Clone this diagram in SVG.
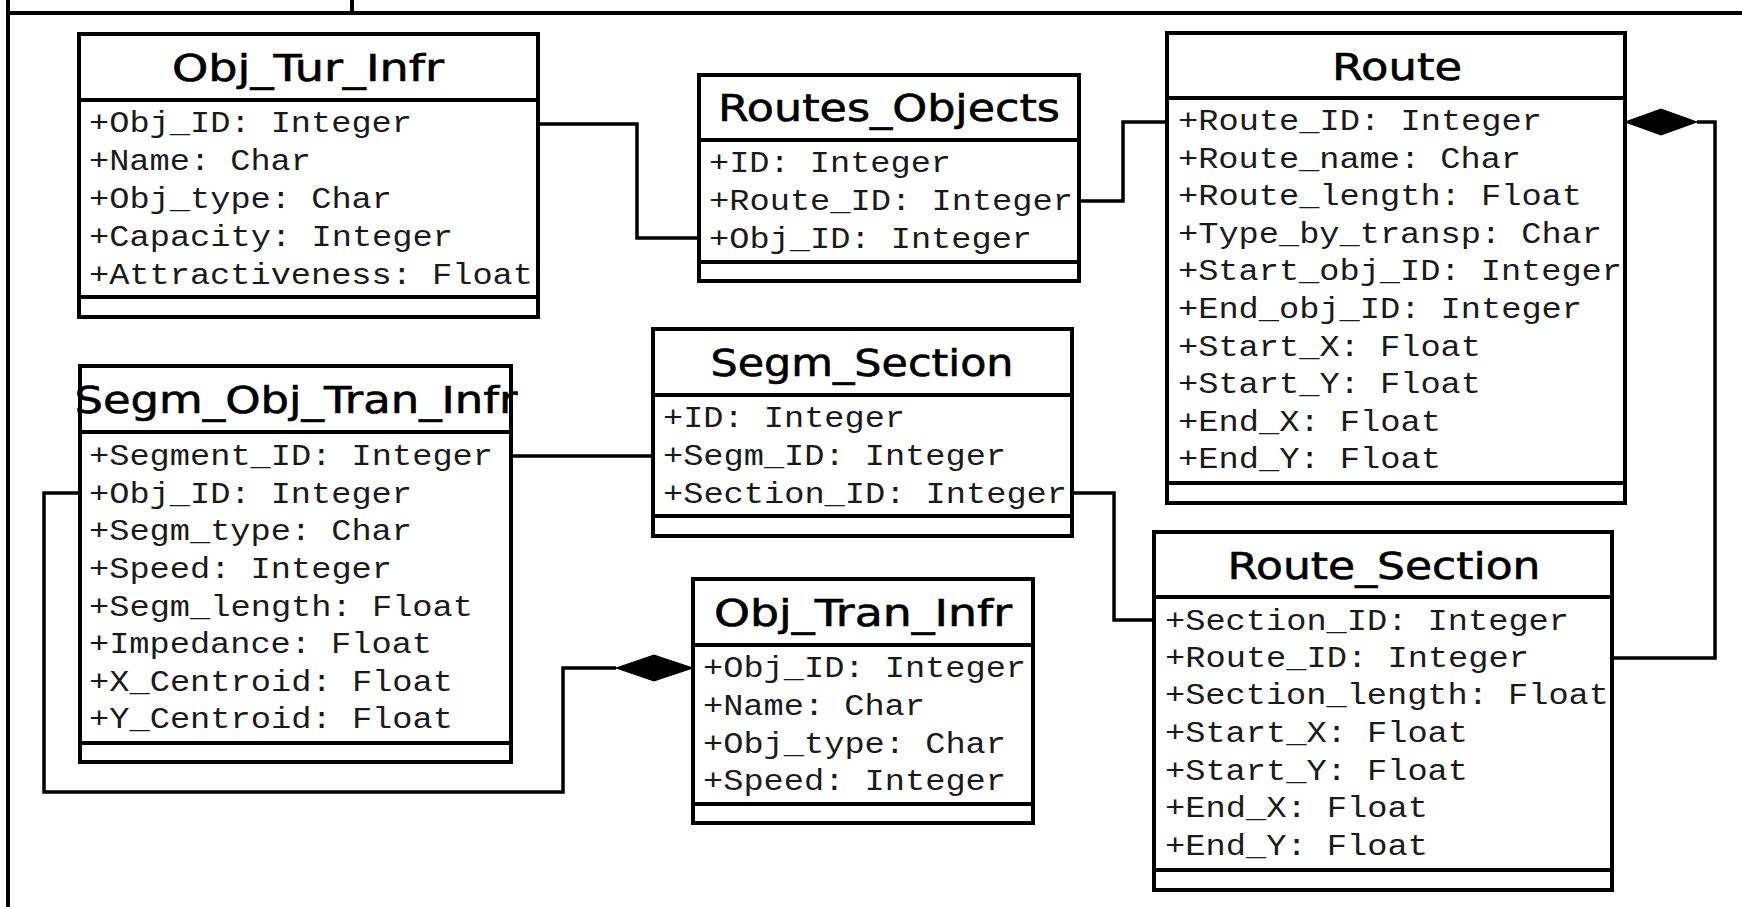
<svg xmlns="http://www.w3.org/2000/svg" width="1742" height="907" viewBox="0 0 1742 907">
<style>
.box{fill:#fff;stroke:#000;stroke-width:4}
.div{stroke:#000;stroke-width:4}
.ttl{font-family:"DejaVu Sans",sans-serif;font-size:38px;fill:#000;stroke:#000;stroke-width:0.6;text-anchor:middle}
.att{font-family:"Liberation Mono",monospace;font-size:30px;fill:#1a1a1a}
.con{fill:none;stroke:#000;stroke-width:3.5}
.dia{fill:#000;stroke:#000;stroke-width:1}
.frm{fill:none;stroke:#000;stroke-width:4}
</style>
<rect x="0" y="0" width="1742" height="907" fill="#fff"/>
<g id="frame">
<path class="frm" d="M8,0 V907 M8,13 H1742 M352,0 V13"/>
</g>
<g id="connectors">
<path class="con" d="M538,124 H637 V238 H699"/>
<path class="con" d="M1079,201 H1123 V122 H1167"/>
<path class="con" d="M1697,122 H1715 V658 H1612"/>
<polygon class="dia" points="1625,122 1661,109 1697,122 1661,135"/>
<path class="con" d="M511,456 H653"/>
<path class="con" d="M1072,493 H1114 V620 H1154"/>
<path class="con" d="M80,493 H44 V792 H563 V668 H616"/>
<polygon class="dia" points="693,668 654,655 616,668 654,681"/>
</g>
<g id="Obj_Tur_Infr">
<rect class="box" x="79" y="34" width="459" height="283"/>
<line class="div" x1="79" y1="100" x2="538" y2="100"/>
<line class="div" x1="79" y1="297" x2="538" y2="297"/>
<text class="ttl" x="308" y="81" textLength="272" lengthAdjust="spacingAndGlyphs">Obj_Tur_Infr</text>
<text class="att" x="89" y="132" textLength="323" lengthAdjust="spacingAndGlyphs">+Obj_ID: Integer</text>
<text class="att" x="89" y="170" textLength="222" lengthAdjust="spacingAndGlyphs">+Name: Char</text>
<text class="att" x="89" y="208" textLength="303" lengthAdjust="spacingAndGlyphs">+Obj_type: Char</text>
<text class="att" x="89" y="246" textLength="364" lengthAdjust="spacingAndGlyphs">+Capacity: Integer</text>
<text class="att" x="89" y="284" textLength="444" lengthAdjust="spacingAndGlyphs">+Attractiveness: Float</text>
</g>
<g id="Routes_Objects">
<rect class="box" x="699" y="75" width="380" height="206"/>
<line class="div" x1="699" y1="140" x2="1079" y2="140"/>
<line class="div" x1="699" y1="262" x2="1079" y2="262"/>
<text class="ttl" x="889" y="121" textLength="342" lengthAdjust="spacingAndGlyphs">Routes_Objects</text>
<text class="att" x="709" y="172" textLength="242" lengthAdjust="spacingAndGlyphs">+ID: Integer</text>
<text class="att" x="709" y="210" textLength="364" lengthAdjust="spacingAndGlyphs">+Route_ID: Integer</text>
<text class="att" x="709" y="248" textLength="323" lengthAdjust="spacingAndGlyphs">+Obj_ID: Integer</text>
</g>
<g id="Route">
<rect class="box" x="1167" y="33" width="458" height="470"/>
<line class="div" x1="1167" y1="98" x2="1625" y2="98"/>
<line class="div" x1="1167" y1="483" x2="1625" y2="483"/>
<text class="ttl" x="1397" y="80" textLength="130" lengthAdjust="spacingAndGlyphs">Route</text>
<text class="att" x="1178" y="130" textLength="364" lengthAdjust="spacingAndGlyphs">+Route_ID: Integer</text>
<text class="att" x="1178" y="168" textLength="343" lengthAdjust="spacingAndGlyphs">+Route_name: Char</text>
<text class="att" x="1178" y="205" textLength="404" lengthAdjust="spacingAndGlyphs">+Route_length: Float</text>
<text class="att" x="1178" y="243" textLength="424" lengthAdjust="spacingAndGlyphs">+Type_by_transp: Char</text>
<text class="att" x="1178" y="280" textLength="444" lengthAdjust="spacingAndGlyphs">+Start_obj_ID: Integer</text>
<text class="att" x="1178" y="318" textLength="404" lengthAdjust="spacingAndGlyphs">+End_obj_ID: Integer</text>
<text class="att" x="1178" y="356" textLength="303" lengthAdjust="spacingAndGlyphs">+Start_X: Float</text>
<text class="att" x="1178" y="393" textLength="303" lengthAdjust="spacingAndGlyphs">+Start_Y: Float</text>
<text class="att" x="1178" y="431" textLength="263" lengthAdjust="spacingAndGlyphs">+End_X: Float</text>
<text class="att" x="1178" y="468" textLength="263" lengthAdjust="spacingAndGlyphs">+End_Y: Float</text>
</g>
<g id="Segm_Obj_Tran_Infr">
<rect class="box" x="80" y="366" width="431" height="396"/>
<line class="div" x1="80" y1="432" x2="511" y2="432"/>
<line class="div" x1="80" y1="743" x2="511" y2="743"/>
<text class="ttl" x="296" y="413" textLength="443" lengthAdjust="spacingAndGlyphs">Segm_Obj_Tran_Infr</text>
<text class="att" x="89" y="465" textLength="404" lengthAdjust="spacingAndGlyphs">+Segment_ID: Integer</text>
<text class="att" x="89" y="503" textLength="323" lengthAdjust="spacingAndGlyphs">+Obj_ID: Integer</text>
<text class="att" x="89" y="540" textLength="323" lengthAdjust="spacingAndGlyphs">+Segm_type: Char</text>
<text class="att" x="89" y="578" textLength="303" lengthAdjust="spacingAndGlyphs">+Speed: Integer</text>
<text class="att" x="89" y="616" textLength="384" lengthAdjust="spacingAndGlyphs">+Segm_length: Float</text>
<text class="att" x="89" y="653" textLength="343" lengthAdjust="spacingAndGlyphs">+Impedance: Float</text>
<text class="att" x="89" y="691" textLength="364" lengthAdjust="spacingAndGlyphs">+X_Centroid: Float</text>
<text class="att" x="89" y="728" textLength="364" lengthAdjust="spacingAndGlyphs">+Y_Centroid: Float</text>
</g>
<g id="Segm_Section">
<rect class="box" x="653" y="329" width="419" height="207"/>
<line class="div" x1="653" y1="395" x2="1072" y2="395"/>
<line class="div" x1="653" y1="516" x2="1072" y2="516"/>
<text class="ttl" x="862" y="376" textLength="303" lengthAdjust="spacingAndGlyphs">Segm_Section</text>
<text class="att" x="663" y="427" textLength="242" lengthAdjust="spacingAndGlyphs">+ID: Integer</text>
<text class="att" x="663" y="465" textLength="343" lengthAdjust="spacingAndGlyphs">+Segm_ID: Integer</text>
<text class="att" x="663" y="503" textLength="404" lengthAdjust="spacingAndGlyphs">+Section_ID: Integer</text>
</g>
<g id="Obj_Tran_Infr">
<rect class="box" x="693" y="579" width="340" height="244"/>
<line class="div" x1="693" y1="645" x2="1033" y2="645"/>
<line class="div" x1="693" y1="804" x2="1033" y2="804"/>
<text class="ttl" x="863" y="626" textLength="298" lengthAdjust="spacingAndGlyphs">Obj_Tran_Infr</text>
<text class="att" x="703" y="677" textLength="323" lengthAdjust="spacingAndGlyphs">+Obj_ID: Integer</text>
<text class="att" x="703" y="715" textLength="222" lengthAdjust="spacingAndGlyphs">+Name: Char</text>
<text class="att" x="703" y="753" textLength="303" lengthAdjust="spacingAndGlyphs">+Obj_type: Char</text>
<text class="att" x="703" y="790" textLength="303" lengthAdjust="spacingAndGlyphs">+Speed: Integer</text>
</g>
<g id="Route_Section">
<rect class="box" x="1154" y="532" width="458" height="358"/>
<line class="div" x1="1154" y1="597" x2="1612" y2="597"/>
<line class="div" x1="1154" y1="870" x2="1612" y2="870"/>
<text class="ttl" x="1384" y="579" textLength="313" lengthAdjust="spacingAndGlyphs">Route_Section</text>
<text class="att" x="1165" y="630" textLength="404" lengthAdjust="spacingAndGlyphs">+Section_ID: Integer</text>
<text class="att" x="1165" y="667" textLength="364" lengthAdjust="spacingAndGlyphs">+Route_ID: Integer</text>
<text class="att" x="1165" y="704" textLength="444" lengthAdjust="spacingAndGlyphs">+Section_length: Float</text>
<text class="att" x="1165" y="742" textLength="303" lengthAdjust="spacingAndGlyphs">+Start_X: Float</text>
<text class="att" x="1165" y="780" textLength="303" lengthAdjust="spacingAndGlyphs">+Start_Y: Float</text>
<text class="att" x="1165" y="817" textLength="263" lengthAdjust="spacingAndGlyphs">+End_X: Float</text>
<text class="att" x="1165" y="855" textLength="263" lengthAdjust="spacingAndGlyphs">+End_Y: Float</text>
</g>
</svg>
